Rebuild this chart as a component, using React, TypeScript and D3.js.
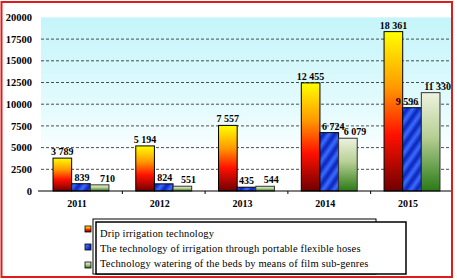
import { useRef, useEffect } from "react";
import * as d3 from "d3";

const years = ["2011", "2012", "2013", "2014", "2015"];
const drip = [3789, 5194, 7557, 12455, 18361];
const hoses = [839, 824, 435, 6724, 9596];
const film = [710, 551, 544, 6079, 11330];
const seriesNames = [
  "Drip irrigation technology",
  "The technology of irrigation through portable flexible hoses",
  "Technology watering of the beds by means of film sub-genres",
];
const yTicks = [0, 2500, 5000, 7500, 10000, 12500, 15000, 17500, 20000];

const FONT = "Liberation Serif, Times New Roman, serif";

const App = () => {
  const svgRef = useRef<SVGSVGElement | null>(null);

  useEffect(() => {
    const svg = d3.select(svgRef.current);
    svg.selectAll("*").remove();

    const width = 457;
    const height = 280;
    const plot = { left: 41, right: 452, top: 17.4, bottom: 191 };

    // label nudges per series, in px (mimic the source's placement)
    const series = [
      { key: "drip", values: drip, fill: "url(#gDrip)", stroke: "#000", dx: [0, 0, 0, 0, 0] },
      { key: "hoses", values: hoses, fill: "url(#pHoses)", stroke: "#000", dx: [1, 1, 0, 4, -5] },
      { key: "film", values: film, fill: "url(#gFilm)", stroke: "#333", dx: [8, 6, 6, 7, 7] },
    ];

    const y = d3.scaleLinear().domain([0, 20000]).range([plot.bottom, plot.top]);
    const x0 = d3.scaleBand().domain(years).range([39.6, 453.4]);
    const x1 = d3
      .scaleBand()
      .domain(series.map((s) => s.key))
      .range([0, x0.bandwidth()])
      .paddingOuter(0.72);

    const fmt = d3
      .formatLocale({ decimal: ".", thousands: " ", grouping: [3], currency: ["", ""] })
      .format(",d");

    // gradients
    const defs = svg.append("defs");
    const bg = defs.append("linearGradient").attr("id", "gBg").attr("x1", 0).attr("y1", 0).attr("x2", 0).attr("y2", 1);
    bg.append("stop").attr("offset", 0).attr("stop-color", "#c4f5fa");
    bg.append("stop").attr("offset", 0.55).attr("stop-color", "#e6fbfd");
    bg.append("stop").attr("offset", 0.8).attr("stop-color", "#ffffff");

    const gd = defs.append("linearGradient").attr("id", "gDrip").attr("x1", 0).attr("y1", 0).attr("x2", 0).attr("y2", 1);
    gd.append("stop").attr("offset", 0).attr("stop-color", "#ffff00");
    gd.append("stop").attr("offset", 0.35).attr("stop-color", "#ff9900");
    gd.append("stop").attr("offset", 0.65).attr("stop-color", "#ff1000");
    gd.append("stop").attr("offset", 1).attr("stop-color", "#700000");

    const gf = defs.append("linearGradient").attr("id", "gFilm").attr("x1", 0).attr("y1", 0).attr("x2", 0).attr("y2", 1);
    gf.append("stop").attr("offset", 0).attr("stop-color", "#eef2e0");
    gf.append("stop").attr("offset", 0.45).attr("stop-color", "#b7cf94");
    gf.append("stop").attr("offset", 1).attr("stop-color", "#2a7a16");

    const gs = defs.append("linearGradient").attr("id", "gStripe").attr("x1", 0).attr("y1", 0).attr("x2", 1).attr("y2", 0);
    gs.append("stop").attr("offset", 0).attr("stop-color", "#0a22b8");
    gs.append("stop").attr("offset", 0.5).attr("stop-color", "#3a6cff");
    gs.append("stop").attr("offset", 1).attr("stop-color", "#0a22b8");

    defs
      .append("pattern")
      .attr("id", "pHoses")
      .attr("patternUnits", "userSpaceOnUse")
      .attr("width", 9)
      .attr("height", 9)
      .attr("patternTransform", "rotate(35)")
      .append("rect")
      .attr("width", 9)
      .attr("height", 9)
      .attr("fill", "url(#gStripe)");

    svg.append("rect").attr("width", width).attr("height", height).attr("fill", "#fff");

    // plot background
    svg
      .append("rect")
      .attr("x", plot.left)
      .attr("y", plot.top)
      .attr("width", plot.right - plot.left)
      .attr("height", plot.bottom - plot.top)
      .attr("fill", "url(#gBg)");

    // grid
    svg
      .append("g")
      .selectAll("line")
      .data(yTicks.filter((t) => t > 0 && t < 20000))
      .join("line")
      .attr("x1", plot.left)
      .attr("x2", plot.right)
      .attr("y1", (d) => y(d))
      .attr("y2", (d) => y(d))
      .attr("stroke", "#222")
      .attr("stroke-width", 0.8)
      .attr("stroke-dasharray", "3,2");

    // y labels
    svg
      .append("g")
      .selectAll("text")
      .data(yTicks)
      .join("text")
      .attr("x", 32)
      .attr("y", (d) => y(d))
      .attr("dy", "0.35em")
      .attr("text-anchor", "end")
      .style("font-family", FONT)
      .attr("font-weight", "bold")
      .attr("font-size", 10.5)
      .text((d) => d);

    // bars
    series.forEach((s) => {
      svg
        .append("g")
        .selectAll("rect")
        .data(s.values)
        .join("rect")
        .attr("x", (d, i) => x0(years[i])! + x1(s.key)!)
        .attr("y", (d) => y(d))
        .attr("width", x1.bandwidth())
        .attr("height", (d) => y(0) - y(d))
        .attr("fill", s.fill)
        .attr("stroke", s.stroke)
        .attr("stroke-width", 1);
    });

    // value labels on top of all bars
    series.forEach((s) => {
      svg
        .append("g")
        .selectAll("text")
        .data(s.values)
        .join("text")
        .attr("x", (d, i) => x0(years[i])! + x1(s.key)! + x1.bandwidth() / 2 + s.dx[i])
        .attr("y", (d) => y(d) - 3)
        .attr("text-anchor", "middle")
        .style("font-family", FONT)
        .attr("font-weight", "bold")
        .attr("font-size", 10)
        .text((d) => fmt(d));
    });

    // x axis
    const xAxis = svg.append("g");
    xAxis
      .append("line")
      .attr("x1", 38)
      .attr("x2", plot.right)
      .attr("y1", plot.bottom)
      .attr("y2", plot.bottom)
      .attr("stroke", "#000")
      .attr("stroke-width", 1.2);
    xAxis
      .selectAll("line.tick")
      .data(years.slice(1))
      .join("line")
      .attr("class", "tick")
      .attr("x1", (d) => x0(d)!)
      .attr("x2", (d) => x0(d)!)
      .attr("y1", plot.bottom)
      .attr("y2", plot.bottom + 3)
      .attr("stroke", "#000");
    xAxis
      .selectAll("text")
      .data(years)
      .join("text")
      .attr("x", (d) => x0(d)! + x0.bandwidth() / 2 - 4)
      .attr("y", 207)
      .attr("text-anchor", "middle")
      .style("font-family", FONT)
      .attr("font-weight", "bold")
      .attr("font-size", 10)
      .text((d) => d);

    // legend
    const legend = svg.append("g");
    legend
      .append("rect")
      .attr("x", 93)
      .attr("y", 219)
      .attr("width", 283)
      .attr("height", 55)
      .attr("fill", "none")
      .attr("stroke", "#000")
      .attr("stroke-width", 1);
    legend
      .append("rect")
      .attr("x", 96)
      .attr("y", 222)
      .attr("width", 310)
      .attr("height", 52)
      .attr("fill", "#fff")
      .attr("stroke", "#000")
      .attr("stroke-width", 1.5);

    series.forEach((s, i) => {
      legend
        .append("rect")
        .attr("x", 85)
        .attr("y", 226 + i * 18)
        .attr("width", 6)
        .attr("height", 6)
        .attr("fill", s.fill)
        .attr("stroke", "#000")
        .attr("stroke-width", 0.8);
      legend
        .append("text")
        .attr("x", 100)
        .attr("y", 237 + i * 15)
        .style("font-family", FONT)
        .attr("font-size", 10.5)
        .attr("letter-spacing", 0.15)
        .text(seriesNames[i]);
    });

    // outer red frame
    svg
      .append("rect")
      .attr("x", 1.5)
      .attr("y", 2)
      .attr("width", 450.5)
      .attr("height", 275)
      .attr("fill", "none")
      .attr("stroke", "#e01b1b")
      .attr("stroke-width", 2);
  }, []);

  return (
    <svg
      ref={svgRef}
      width="457"
      height="280"
      style={{ position: "absolute", left: 0, top: 0 }}
    />
  );
};

export default App;
